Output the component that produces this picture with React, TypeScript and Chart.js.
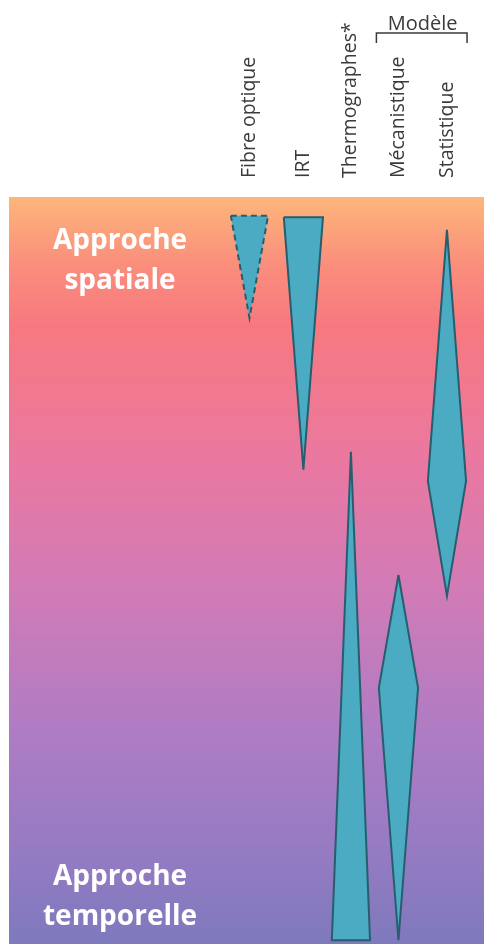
import { useEffect, useRef } from 'react';
import { Chart, registerables } from 'chart.js';

Chart.register(...registerables);

// ---- data ----
const categories = ['Fibre optique', 'IRT', 'Thermographes*', 'Mécanistique', 'Statistique'];
const columnPos = [0, 1.1, 2.07, 3.04, 4.03];
const halfWidths = [0.38, 0.4, 0.39, 0.4, 0.39];
const shapeKinds = ['down', 'down', 'up', 'diamond', 'diamond'];
const topValues = [2.5, 2.7, 34.1, 50.6, 4.4];
const midValues: (number | null)[] = [null, null, null, 65.7, 38.0];
const bottomValues = [16.2, 36.5, 99.5, 99.5, 53.4];
const dashedBorder = [true, false, false, false, false];
const groupLabel = 'Modèle';
const groupMembers = [3, 4];
const spatialLabel = ['Approche', 'spatiale'];
const temporalLabel = ['Approche', 'temporelle'];

const FILL = '#4aabc3';
const BORDER = '#285d6d';
const TEXT = '#3a3a3a';

function polygon(i: number) {
  const c = columnPos[i];
  const h = halfWidths[i];
  const t = topValues[i];
  const b = bottomValues[i];
  const m = midValues[i];
  const k = shapeKinds[i];
  if (k === 'down') {
    return [
      { x: c - h, y: t },
      { x: c + h, y: t },
      { x: c, y: b },
      { x: c - h, y: t },
    ];
  }
  if (k === 'up') {
    return [
      { x: c, y: t },
      { x: c + h, y: b },
      { x: c - h, y: b },
      { x: c, y: t },
    ];
  }
  return [
    { x: c, y: t },
    { x: c + h, y: m as number },
    { x: c, y: b },
    { x: c - h, y: m as number },
    { x: c, y: t },
  ];
}

const decorPlugin = {
  id: 'decor',
  beforeDraw(chart: any) {
    const { ctx, chartArea: a } = chart;
    const g = ctx.createLinearGradient(0, a.top, 0, a.bottom);
    g.addColorStop(0, '#fdb67a');
    g.addColorStop(0.09, '#fa8e7c');
    g.addColorStop(0.17, '#f7797f');
    g.addColorStop(0.35, '#ea78a0');
    g.addColorStop(0.52, '#d27bb6');
    g.addColorStop(0.72, '#ae7cc4');
    g.addColorStop(0.87, '#967bc3');
    g.addColorStop(1, '#7f79bd');
    ctx.save();
    ctx.fillStyle = g;
    ctx.fillRect(a.left, a.top, a.right - a.left, a.bottom - a.top);
    ctx.restore();
  },
  afterDraw(chart: any) {
    const { ctx, chartArea: a, scales } = chart;
    const xs = scales.x;
    ctx.save();
    // rotated column labels
    ctx.fillStyle = TEXT;
    ctx.font = '19.5px "Open Sans"';
    ctx.textAlign = 'left';
    ctx.textBaseline = 'middle';
    categories.forEach((lab, i) => {
      const px = xs.getPixelForValue(columnPos[i]);
      ctx.save();
      ctx.translate(px, a.top - 19);
      ctx.rotate(-Math.PI / 2);
      ctx.fillText(lab, 0, 0);
      ctx.restore();
    });
    // group bracket
    const gx0 = xs.getPixelForValue(columnPos[groupMembers[0]] - halfWidths[groupMembers[0]] - 0.05);
    const gx1 = xs.getPixelForValue(columnPos[groupMembers[1]] + halfWidths[groupMembers[1]] + 0.02);
    ctx.strokeStyle = TEXT;
    ctx.lineWidth = 1.5;
    ctx.beginPath();
    ctx.moveTo(gx0, a.top - 154);
    ctx.lineTo(gx0, a.top - 164);
    ctx.lineTo(gx1, a.top - 164);
    ctx.lineTo(gx1, a.top - 154);
    ctx.stroke();
    ctx.font = '20px "Open Sans"';
    ctx.textAlign = 'center';
    ctx.textBaseline = 'alphabetic';
    ctx.fillText(groupLabel, (gx0 + gx1) / 2 + 1, a.top - 167);
    // approach labels
    ctx.fillStyle = '#ffffff';
    ctx.font = 'bold 28px "Open Sans"';
    const cx = a.left + 111;
    spatialLabel.forEach((t, i) => ctx.fillText(t, cx, a.top + 52 + i * 40));
    temporalLabel.forEach((t, i) => ctx.fillText(t, cx, a.bottom - 59 + i * 40));
    ctx.restore();
  },
};

export default function App() {
  const ref = useRef<HTMLCanvasElement>(null);
  useEffect(() => {
    if (!ref.current) return;
    const datasets = categories.map((lab, i) => ({
      label: lab,
      data: polygon(i),
      fill: 'shape',
      backgroundColor: FILL,
      borderColor: BORDER,
      borderWidth: 2,
      borderDash: dashedBorder[i] ? [6, 4] : [],
      borderJoinStyle: 'miter',
      tension: 0,
      pointRadius: 0,
      pointHoverRadius: 0,
    }));
    const chart = new Chart(ref.current, {
      type: 'line',
      data: { datasets: datasets as any },
      options: {
        animation: false,
        responsive: true,
        maintainAspectRatio: false,
        layout: { padding: { left: 9, top: 197, right: 0, bottom: 0 } },
        scales: {
          x: { type: 'linear', display: false, min: -4.908, max: 4.786 },
          y: { type: 'linear', display: false, min: 0, max: 100, reverse: true },
        },
        plugins: {
          legend: { display: false },
          tooltip: { enabled: false },
        },
      },
      plugins: [decorPlugin],
    });
    return () => chart.destroy();
  }, []);
  return (
    <div style={{ position: 'fixed', left: 0, top: 0, width: 484, height: 944, background: '#ffffff' }}>
      <canvas ref={ref} />
    </div>
  );
}
